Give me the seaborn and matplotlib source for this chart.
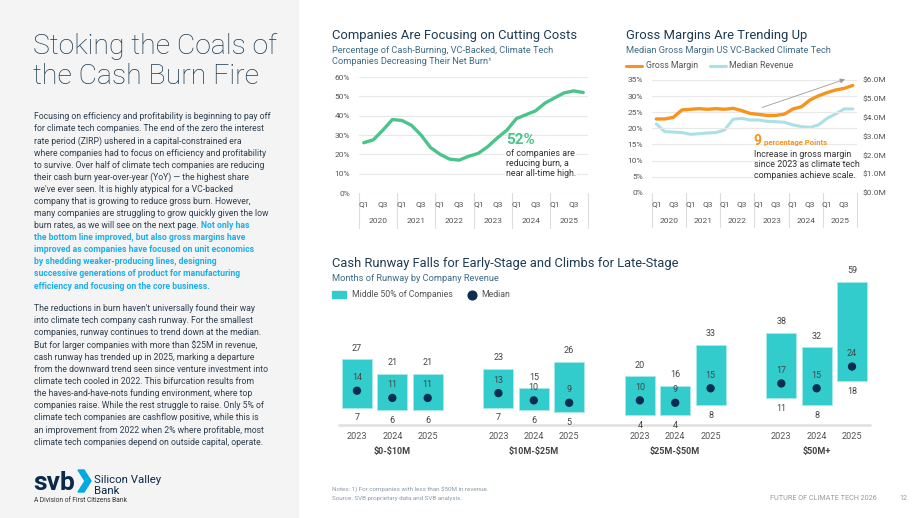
import matplotlib
matplotlib.use("Agg")
import numpy as np
import pandas as pd
import matplotlib.pyplot as plt
import seaborn as sns
from matplotlib.patches import Rectangle, Polygon
from matplotlib.lines import Line2D

# ---- data ----
quarters = np.arange(24)  # 2020 Q1 .. 2025 Q4
year_labels = ['2020', '2021', '2022', '2023', '2024', '2025']

burn_pct = [26, 27.5, 32.5, 38, 37.5, 35, 30, 23.5, 20, 17.5, 17, 19,
            20.5, 24, 28.5, 32.5, 38.5, 40.5, 42.5, 46.5, 49.2, 51.8, 52.8, 52]

gross_margin = [22.9, 22.9, 23.4, 25.7, 25.9, 26.1, 25.9, 26.1, 25.9, 26.2, 25.5, 24.6,
                24.3, 24.0, 24.0, 24.4, 26.0, 26.7, 28.8, 30.1, 31.1, 31.9, 32.4, 33.3]
median_revenue = [3.66, 3.25, 3.23, 3.20, 3.11, 3.14, 3.18, 3.20, 3.34, 3.91, 3.96, 3.87,
                  3.87, 3.80, 3.78, 3.75, 3.61, 3.52, 3.48, 3.61, 3.96, 4.19, 4.46, 4.46]

rev_groups = ['$0-$10M', '$10M-$25M', '$25M-$50M', '$50M+']
runway_years = ['2023', '2024', '2025']
runway_low = [7, 6, 6, 7, 6, 5, 4, 4, 8, 11, 8, 18]
runway_high = [27, 21, 21, 23, 15, 26, 20, 16, 33, 38, 32, 59]
runway_median = [14, 11, 11, 13, 10, 9, 10, 9, 15, 17, 15, 24]

# ---- colours ----
NAVY = '#1d3b52'
BODY = '#2e3f4f'
SUBT = '#3e6c87'
BLUE = '#1ab0ea'
GREEN = '#4cc38a'
ORANGE = '#f7931e'
LIGHTBLUE = '#a9e1e7'
TEAL = '#33cccc'
DOT = '#0c2d52'
TICK = '#555555'
GRID = '#e8e8e8'

sns.set_theme(style="white")
plt.rcParams['font.family'] = ['Roboto', 'DejaVu Sans']
plt.rcParams['text.parse_math'] = False

W, H = 920, 518
fig = plt.figure(figsize=(W / 100, H / 100), dpi=100)
fig.patch.set_facecolor('white')


def fx(x):
    return x / W


def fy(y):
    return 1 - y / H


def put(x, y, s, **kw):
    kw.setdefault('va', 'center')
    return fig.text(fx(x), fy(y), s, **kw)


def add_ax(x0, y0, x1, y1):
    return fig.add_axes([fx(x0), fy(y1), (x1 - x0) / W, (y1 - y0) / H])


# ---- left panel ----
fig.add_artist(Rectangle((0, 0), 298 / W, 1, transform=fig.transFigure,
                         color='#f4f4f4', zorder=-1))
put(33, 54, 'Stoking the Coals of', fontsize=20.4, color=NAVY, fontweight='light', va='baseline')
put(33, 84, 'the Cash Burn Fire', fontsize=20.4, color=NAVY, fontweight='light', va='baseline')

para1 = [
    "Focusing on efficiency and profitability is beginning to pay off",
    "for climate tech companies. The end of the zero the interest",
    "rate period (ZIRP) ushered in a capital-constrained era",
    "where companies had to focus on efficiency and profitability",
    "to survive. Over half of climate tech companies are reducing",
    "their cash burn year-over-year (YoY) \u2014 the highest share",
    "we've ever seen. It is highly atypical for a VC-backed",
    "company that is growing to reduce gross burn. However,",
    "many companies are struggling to grow quickly given the low",
]
para1_mixed = ("burn rates, as we will see on the next page.", "Not only has")
para1_blue = [
    "the bottom line improved, but also gross margins have",
    "improved as companies have focused on unit economics",
    "by shedding weaker-producing lines, designing",
    "successive generations of product for manufacturing",
    "efficiency and focusing on the core business.",
]
para2 = [
    "The reductions in burn haven't universally found their way",
    "into climate tech company cash runway. For the smallest",
    "companies, runway continues to trend down at the median.",
    "But for larger companies with more than $25M in revenue,",
    "cash runway has trended up in 2025, marking a departure",
    "from the downward trend seen since venture investment into",
    "climate tech cooled in 2022. This bifurcation results from",
    "the haves-and-have-nots funding environment, where top",
    "companies raise. While the rest struggle to raise. Only 5% of",
    "climate tech companies are cashflow positive, while this is",
    "an improvement from 2022 when 2% where profitable, most",
    "climate tech companies depend on outside capital, operate.",
]
BFS = 6.2
LS = 12.1
y0 = 116.7
for i, line in enumerate(para1):
    put(34, y0 + LS * i, line, fontsize=BFS, color=BODY)
ym = y0 + LS * len(para1)
t = put(34, ym, para1_mixed[0], fontsize=BFS, color=BODY)
renderer = fig.canvas.get_renderer()
bb = t.get_window_extent(renderer)
fig.text((bb.x1 + 2.6) / W, fy(ym), para1_mixed[1], fontsize=BFS, color=BLUE,
         fontweight='bold', va='center')
for i, line in enumerate(para1_blue):
    put(34, ym + LS * (i + 1), line, fontsize=BFS, color=BLUE, fontweight='bold')
for i, line in enumerate(para2):
    put(34, 308.3 + 12.18 * i, line, fontsize=BFS, color=BODY)

# logo
put(33, 490, 'svb', fontsize=19, fontweight='bold', color='#0b2a4a', va='baseline')
fig.add_artist(Polygon([(fx(78), fy(470)), (fx(84), fy(470)), (fx(91), fy(481)),
                        (fx(84), fy(492)), (fx(78), fy(492)), (fx(85), fy(481))],
                       closed=True, transform=fig.transFigure, color='#00a9e0'))
put(94, 483, 'Silicon Valley', fontsize=8.2, color='#0b2a4a', va='baseline')
put(94, 494, 'Bank', fontsize=8.2, color='#0b2a4a', va='baseline')
put(34, 501, 'A Division of First Citizens Bank', fontsize=4.8, color='#333333')


def quarter_axis(ax, q_y, yr_y, sep_bottom):
    tr = ax.get_xaxis_transform()
    for k, yr in enumerate(year_labels):
        for q, lab in ((0, 'Q1'), (2, 'Q3')):
            ax.text(4 * k + q, q_y, lab, transform=tr, ha='center', va='center',
                    fontsize=6, color=TICK, clip_on=False)
        ax.text(4 * k + 1.5, yr_y, yr, transform=tr, ha='center', va='center',
                fontsize=6, color=TICK, clip_on=False)
    for k in range(7):
        ax.plot([4 * k - 0.5] * 2, [0, sep_bottom], transform=tr, color='#dddddd',
                lw=0.8, clip_on=False)


def clean(ax):
    for s in ax.spines.values():
        s.set_visible(False)
    ax.set_xticks([])
    ax.set_xlabel('')
    ax.set_ylabel('')


# ---- chart 1: cash burn ----
put(332, 36, 'Companies Are Focusing on Cutting Costs', fontsize=9.4, color=NAVY)
put(332, 50.7, 'Percentage of Cash-Burning, VC-Backed, Climate Tech', fontsize=6.7, color=SUBT)
put(332, 61.7, 'Companies Decreasing Their Net Burn\u00b9', fontsize=6.7, color=SUBT)

ax1 = add_ax(359, 77, 588, 193)
burn_df = pd.DataFrame({'q': quarters, 'pct': burn_pct})
sns.lineplot(data=burn_df, x='q', y='pct', ax=ax1, color=GREEN, lw=2.4)
ax1.set_xlim(-0.5, 23.5)
ax1.set_ylim(0, 60)
ax1.set_yticks(range(0, 61, 10))
ax1.set_yticklabels([f'{v}%' for v in range(0, 61, 10)])
ax1.yaxis.grid(True, color=GRID, lw=0.8)
ax1.tick_params(axis='y', length=0, pad=6.5, labelsize=6, labelcolor=TICK)
clean(ax1)
quarter_axis(ax1, -0.095, -0.239, -0.30)

put(506, 140, '52%', fontsize=11, fontweight='bold', color=GREEN)
for i, line in enumerate(['of companies are', 'reducing burn, a', 'near all-time high.']):
    put(506, 153.3 + 10.3 * i, line, fontsize=6.4, color='#333333',
        bbox=dict(facecolor='white', edgecolor='none', pad=0.6))

# ---- chart 2: gross margin ----
put(626, 36, 'Gross Margins Are Trending Up', fontsize=9.4, color=NAVY)
put(626, 50.7, 'Median Gross Margin US VC-Backed Climate Tech', fontsize=6.7, color=SUBT)
fig.add_artist(Line2D([fx(626), fx(642)], [fy(66), fy(66)], transform=fig.transFigure,
                      color=ORANGE, lw=2.2))
put(646, 66, 'Gross Margin', fontsize=6.3, color=TICK)
fig.add_artist(Line2D([fx(710), fx(726)], [fy(66), fy(66)], transform=fig.transFigure,
                      color=LIGHTBLUE, lw=2.2))
put(729, 66, 'Median Revenue', fontsize=6.3, color=TICK)

ax2 = add_ax(652, 80, 857, 192.7)
gm_df = pd.DataFrame({'q': quarters, 'gm': gross_margin, 'rev': median_revenue})
sns.lineplot(data=gm_df, x='q', y='gm', ax=ax2, color=ORANGE, lw=2.4, zorder=3)
ax2.set_xlim(-0.5, 23.5)
ax2.set_ylim(0, 35)
ax2.set_yticks(range(0, 36, 5))
ax2.set_yticklabels([f'{v}%' for v in range(0, 36, 5)])
ax2.yaxis.grid(True, color=GRID, lw=0.8)
ax2.tick_params(axis='y', length=0, pad=6.5, labelsize=6, labelcolor=TICK)
clean(ax2)
ax2r = ax2.twinx()
sns.lineplot(data=gm_df, x='q', y='rev', ax=ax2r, color=LIGHTBLUE, lw=2.2)
ax2r.set_ylim(0, 6)
ax2r.set_yticks(range(0, 7))
ax2r.set_yticklabels([f'${v:.1f}M' for v in range(0, 7)])
ax2r.tick_params(axis='y', length=0, pad=4.3, labelsize=6, labelcolor=TICK)
ax2r.grid(False)
clean(ax2r)
ax2.set_zorder(2)
ax2.patch.set_visible(False)
ax2r.set_zorder(1)
quarter_axis(ax2, -0.1, -0.248, -0.30)
ax2.annotate('', xy=(22.4, 35.5), xytext=(12.1, 26.2), annotation_clip=False,
             arrowprops=dict(arrowstyle='-|>', color='#9a9a9a', lw=0.6, mutation_scale=7))

fig.add_artist(Rectangle((fx(750), fy(181)), 105 / W, 34 / H, transform=fig.transFigure,
                         color='white', zorder=2))
put(753.5, 141, '9', fontsize=10, fontweight='bold', color=ORANGE, zorder=3)
put(764.5, 142, 'percentage Points', fontsize=5.6, fontweight='bold', color=ORANGE, zorder=3)
for i, line in enumerate(['Increase in gross margin', 'since 2023 as climate tech',
                          'companies achieve scale.']):
    put(754, 154 + 10.5 * i, line, fontsize=6.4, color='#333333', zorder=3)

# ---- chart 3: cash runway ----
put(332, 264, 'Cash Runway Falls for Early-Stage and Climbs for Late-Stage', fontsize=9.3, color=NAVY)
put(332, 278.3, 'Months of Runway by Company Revenue', fontsize=6.7, color=SUBT)
fig.add_artist(Rectangle((fx(332), fy(298)), 14 / W, 7 / H, transform=fig.transFigure,
                         color=TEAL))
put(351.7, 294.5, 'Middle 50% of Companies', fontsize=6.3, color=TICK)
fig.add_artist(Line2D([fx(472.3)], [fy(294.5)], transform=fig.transFigure, marker='o',
                      ms=6.3, color=DOT, lw=0))
put(481, 294.5, 'Median', fontsize=6.3, color=TICK)

pos = [g * 4 + k for g in range(len(rev_groups)) for k in range(len(runway_years))]
run_df = pd.DataFrame({'pos': pos, 'low': runway_low, 'high': runway_high,
                       'median': runway_median,
                       'year': runway_years * len(rev_groups)})

ax3 = add_ax(339.3, 270, 869.7, 424.5)
ax3.bar(run_df['pos'], run_df['high'] - run_df['low'], bottom=run_df['low'], width=0.85,
        color=TEAL, edgecolor='#a8e8e8', lw=0.7, zorder=2)
sns.scatterplot(data=run_df, x='pos', y='median', ax=ax3, color=DOT, s=36,
                edgecolor='none', zorder=3)
ax3.set_xlim(-0.5, 14.5)
ax3.set_ylim(0, 64)
ax3.axis('off')
ax3.axhline(0, color='#e2e2e2', lw=2, clip_on=False, zorder=1)
for _, r in run_df.iterrows():
    kw = dict(ha='center', va='center', fontsize=6.5, color='#444444', clip_on=False, zorder=4)
    ax3.text(r['pos'], r['high'] + 4.6, f"{r['high']}", **kw)
    ax3.text(r['pos'], r['low'] - 4.3, f"{r['low']}", **kw)
    ax3.text(r['pos'], r['median'] + 5.4, f"{r['median']}", **kw)
    ax3.text(r['pos'], -4.8, r['year'], ha='center', va='center', fontsize=6.6,
             color=TICK, clip_on=False)
for g, name in enumerate(rev_groups):
    ax3.text(g * 4 + 1, -11, name, ha='center', va='center', fontsize=6.5,
             fontweight='bold', color='#444444', clip_on=False)

# ---- footer ----
put(332, 489.3, 'Notes: 1) For companies with less than $50M in revenue.', fontsize=4.5, color='#8a99a8')
put(332, 498.7, 'Source: SVB proprietary data and SVB analysis.', fontsize=4.5, color='#8a99a8')
put(770, 498.3, 'FUTURE OF CLIMATE TECH 2026', fontsize=5.2, color='#9a9a9a')
put(899, 498.3, '12', fontsize=5.2, color='#9a9a9a')

fig.savefig('out.png', dpi=100)
